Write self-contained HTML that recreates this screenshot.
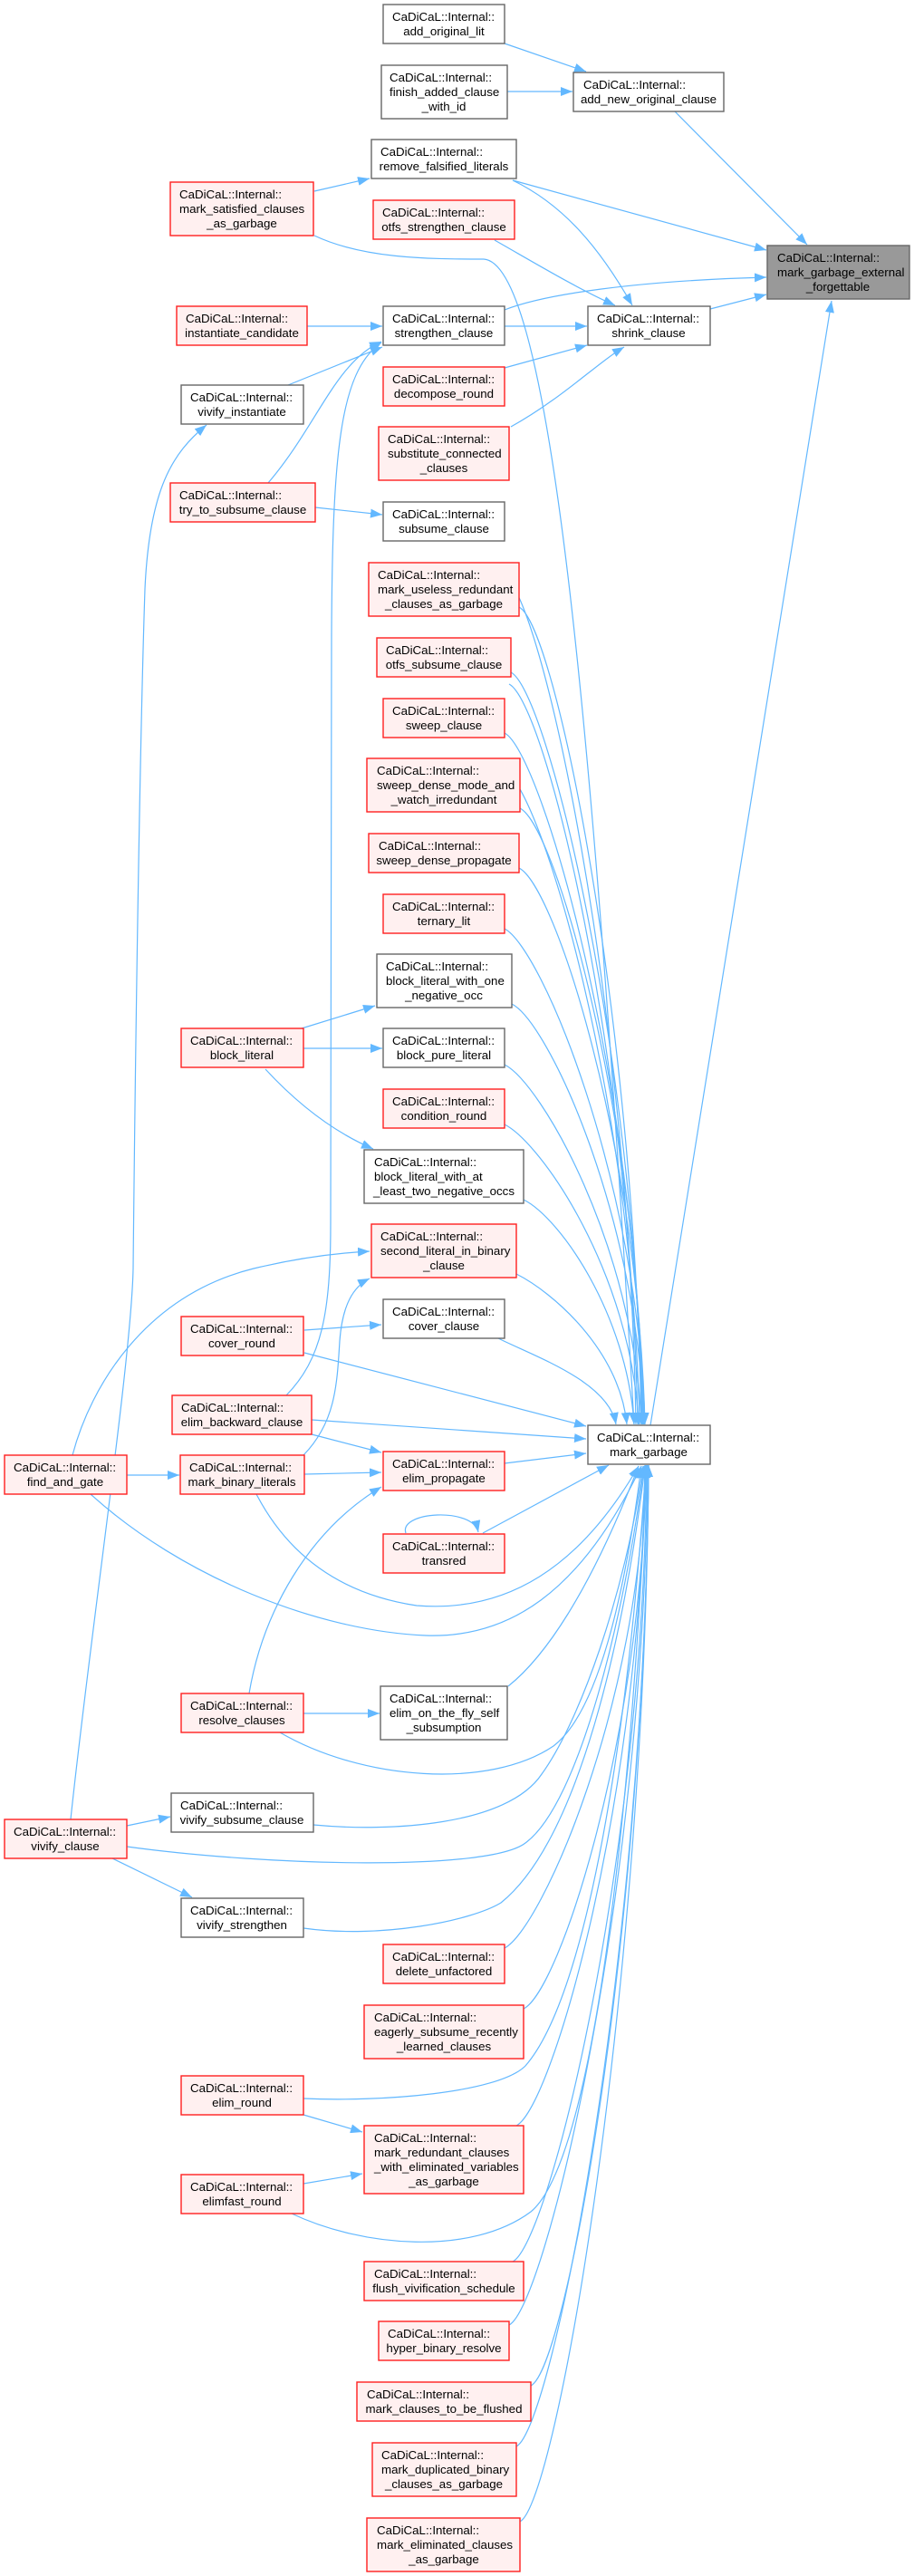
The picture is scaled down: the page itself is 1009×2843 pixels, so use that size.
<!DOCTYPE html>
<html><head><meta charset="utf-8"><style>
html,body{margin:0;padding:0;background:#fff;}
svg{display:block;}
text{font-family:"Liberation Sans",Arial,sans-serif;font-size:13.3px;fill:#000;}
.e{fill:none;stroke:#63b8ff;stroke-width:1.2;marker-end:url(#a);}
.n{fill:none;stroke:#63b8ff;stroke-width:1.2;}
.w{fill:#fff;stroke:#666;stroke-width:1.4;}
.r{fill:#fff0f0;stroke:#ff2020;stroke-width:1.4;}
.g{fill:#999;stroke:#666;stroke-width:1.4;}
</style></head><body>
<svg width="1009" height="2843" viewBox="0 0 1009 2843" xmlns="http://www.w3.org/2000/svg">
<defs><marker id="a" markerUnits="userSpaceOnUse" markerWidth="14" markerHeight="10" refX="13" refY="5" orient="auto"><path d="M0,0 L13,5 L0,10 z" fill="#63b8ff"/></marker></defs>

<!-- edges -->
<path class="e" d="M745,123 L891,270"/>
<path class="e" d="M566,199 L846,276"/>
<path class="e" d="M557,342 C600,325 700,310 846,306"/>
<path class="e" d="M784,341 L846,325"/>
<path class="e" d="M718,1573 L918,332"/>
<path class="e" d="M557,48 L647,79"/>
<path class="e" d="M560,101 L632,101"/>
<path class="e" d="M347,211 L408,197"/>
<path class="e" d="M566,199 C620,225 660,270 698,337"/>
<path class="e" d="M546,265 C590,290 640,320 679,337"/>
<path class="e" d="M557,360 L648,360"/>
<path class="e" d="M557,406 L648,381"/>
<path class="e" d="M564,471 C620,440 660,400 689,383"/>
<path class="e" d="M339,360 L422,360"/>
<path class="e" d="M318,425 L422,383"/>
<path class="e" d="M296,533 C350,470 370,400 421,377"/>
<path class="e" d="M348,560 L422,568"/>
<path class="e" d="M316,1540 C355,1500 365,1450 365,1350 L366,700 C367,500 375,410 421,378"/>
<path class="e" d="M335,1606 C370,1570 372,1530 375,1480 C378,1440 390,1420 408,1411"/>
<path class="e" d="M80,1606 C100,1530 160,1430 280,1400 C330,1388 370,1383 408,1381"/>
<path class="e" d="M333,1135 L414,1110"/>
<path class="e" d="M335,1157 L422,1157"/>
<path class="e" d="M293,1180 C330,1220 370,1250 412,1268"/>
<path class="e" d="M336,1468 L421,1462"/>
<path class="e" d="M344,1583 L421,1603"/>
<path class="e" d="M140,1628 L198,1628"/>
<path class="e" d="M336,1627 L421,1625"/>
<path class="e" d="M448,1692 C440,1668 522,1663 528,1691"/>
<path class="e" d="M275,1869 C290,1780 340,1690 421,1641"/>
<path class="e" d="M335,1891 L419,1891"/>
<path class="e" d="M140,2015 L188,2005"/>
<path class="e" d="M122,2050 L212,2094"/>
<path class="e" d="M78,2008 C100,1800 145,1500 147,1400 C150,1100 155,800 160,650 C165,540 190,500 228,469"/>
<path class="e" d="M335,2334 L400,2353"/>
<path class="e" d="M335,2410 L400,2399"/>

<!-- into mark_garbage -->
<path class="e" d="M336,1493 L647,1574"/>
<path class="e" d="M344,1567 L647,1588"/>
<path class="e" d="M557,1615 L647,1604"/>
<path class="e" d="M533,1692 L672,1617"/>
<path class="e" d="M347,260 C400,285 470,286 534,286 C600,290 650,700 700,1572"/>
<path class="e" d="M557,636 C597,656 694,1100 702,1572"/>
<path class="e" d="M562,755 C602,775 696,1160 704,1572"/>
<path class="e" d="M557,850 C597,870 698,1210 706,1572"/>
<path class="e" d="M573,670 C613,690 700,1120 708,1572"/>
<path class="e" d="M564,742 C604,762 701,1160 709,1572"/>
<path class="e" d="M557,809 C597,829 702,1190 710,1572"/>
<path class="e" d="M574,892 C614,912 703,1230 711,1572"/>
<path class="e" d="M573,958 C613,978 704,1265 712,1572"/>
<path class="e" d="M557,1025 C597,1045 704,1300 712,1572"/>
<path class="e" d="M565,1108 C605,1128 703,1340 711,1572"/>
<path class="e" d="M557,1175 C597,1195 700,1375 708,1572"/>
<path class="e" d="M557,1241 C597,1261 697,1405 705,1572"/>
<path class="e" d="M578,1324 C618,1344 692,1450 700,1572"/>
<path class="e" d="M570,1406 C610,1426 684,1490 692,1572"/>
<path class="e" d="M550,1477 C590,1497 672,1525 680,1572"/>

<path class="e" d="M557,2150 C597,2130 708,1880 712,1617"/>
<path class="e" d="M578,2217 C618,2197 709,1915 713,1617"/>
<path class="e" d="M570,2346 C610,2326 708,1980 712,1617"/>
<path class="e" d="M566,2496 C606,2476 710,2055 714,1617"/>
<path class="e" d="M562,2566 C602,2546 711,2090 715,1617"/>
<path class="e" d="M586,2633 C626,2613 712,2125 716,1617"/>
<path class="e" d="M570,2700 C610,2680 712,2160 716,1617"/>
<path class="e" d="M574,2783 C614,2763 712,2200 716,1617"/>
<path class="e" d="M561,1861 C600,1830 650,1760 705,1618"/>
<path class="e" d="M309,1912 C400,1965 540,1975 611,1927 C660,1890 690,1760 708,1618"/>
<path class="e" d="M346,2014 C430,2022 560,2015 598,1958 C640,1900 690,1760 710,1618"/>
<path class="e" d="M140,2038 C300,2060 540,2065 580,2034 C640,1990 690,1780 711,1618"/>
<path class="e" d="M335,2128 C420,2140 520,2120 553,2100 C640,2030 690,1800 712,1618"/>
<path class="e" d="M335,2316 C420,2320 550,2310 580,2280 C650,2200 695,1900 713,1618"/>
<path class="e" d="M322,2443 C400,2480 520,2490 586,2441 C660,2380 700,1950 714,1618"/>
<path class="e" d="M283,1649 C320,1720 380,1760 460,1772 C560,1780 640,1730 705,1618"/>
<path class="e" d="M100,1649 C200,1740 350,1800 470,1805 C560,1808 640,1760 708,1618"/>

<!-- nodes -->
<g>
<rect class="w" x="423" y="5" width="134" height="43"/><text x="433" y="23">CaDiCaL::Internal::</text><text x="490" y="39" text-anchor="middle">add_original_lit</text>
<rect class="w" x="421" y="72" width="139" height="59"/><text x="430" y="90">CaDiCaL::Internal::</text><text x="430" y="106">finish_added_clause</text><text x="490" y="122" text-anchor="middle">_with_id</text>
<rect class="w" x="633" y="80" width="166" height="43"/><text x="644" y="98">CaDiCaL::Internal::</text><text x="716" y="114" text-anchor="middle">add_new_original_clause</text>
<rect class="w" x="410" y="154" width="160" height="43"/><text x="420" y="172">CaDiCaL::Internal::</text><text x="490" y="188" text-anchor="middle">remove_falsified_literals</text>
<rect class="r" x="188" y="201" width="158" height="59"/><text x="198" y="219">CaDiCaL::Internal::</text><text x="198" y="235">mark_satisfied_clauses</text><text x="267" y="251" text-anchor="middle">_as_garbage</text>
<rect class="r" x="412" y="221" width="156" height="43"/><text x="422" y="239">CaDiCaL::Internal::</text><text x="490" y="255" text-anchor="middle">otfs_strengthen_clause</text>
<rect class="g" x="847" y="271" width="157" height="59"/><text x="858" y="289">CaDiCaL::Internal::</text><text x="858" y="305">mark_garbage_external</text><text x="925" y="321" text-anchor="middle">_forgettable</text>
<rect class="r" x="195" y="338" width="144" height="43"/><text x="205" y="356">CaDiCaL::Internal::</text><text x="267" y="372" text-anchor="middle">instantiate_candidate</text>
<rect class="w" x="423" y="338" width="134" height="43"/><text x="433" y="356">CaDiCaL::Internal::</text><text x="490" y="372" text-anchor="middle">strengthen_clause</text>
<rect class="w" x="649" y="338" width="135" height="43"/><text x="659" y="356">CaDiCaL::Internal::</text><text x="716" y="372" text-anchor="middle">shrink_clause</text>
<rect class="r" x="423" y="405" width="134" height="43"/><text x="433" y="423">CaDiCaL::Internal::</text><text x="490" y="439" text-anchor="middle">decompose_round</text>
<rect class="w" x="200" y="425" width="135" height="43"/><text x="210" y="443">CaDiCaL::Internal::</text><text x="267" y="459" text-anchor="middle">vivify_instantiate</text>
<rect class="r" x="418" y="471" width="144" height="59"/><text x="428" y="489">CaDiCaL::Internal::</text><text x="428" y="505">substitute_connected</text><text x="490" y="521" text-anchor="middle">_clauses</text>
<rect class="r" x="188" y="533" width="160" height="43"/><text x="198" y="551">CaDiCaL::Internal::</text><text x="268" y="567" text-anchor="middle">try_to_subsume_clause</text>
<rect class="w" x="423" y="554" width="134" height="43"/><text x="433" y="572">CaDiCaL::Internal::</text><text x="490" y="588" text-anchor="middle">subsume_clause</text>
<rect class="r" x="407" y="621" width="166" height="59"/><text x="417" y="639">CaDiCaL::Internal::</text><text x="417" y="655">mark_useless_redundant</text><text x="490" y="671" text-anchor="middle">_clauses_as_garbage</text>
<rect class="r" x="416" y="704" width="148" height="43"/><text x="426" y="722">CaDiCaL::Internal::</text><text x="490" y="738" text-anchor="middle">otfs_subsume_clause</text>
<rect class="r" x="423" y="771" width="134" height="43"/><text x="433" y="789">CaDiCaL::Internal::</text><text x="490" y="805" text-anchor="middle">sweep_clause</text>
<rect class="r" x="405" y="837" width="169" height="59"/><text x="416" y="855">CaDiCaL::Internal::</text><text x="416" y="871">sweep_dense_mode_and</text><text x="490" y="887" text-anchor="middle">_watch_irredundant</text>
<rect class="r" x="407" y="920" width="166" height="43"/><text x="418" y="938">CaDiCaL::Internal::</text><text x="490" y="954" text-anchor="middle">sweep_dense_propagate</text>
<rect class="r" x="423" y="987" width="134" height="43"/><text x="433" y="1005">CaDiCaL::Internal::</text><text x="490" y="1021" text-anchor="middle">ternary_lit</text>
<rect class="w" x="416" y="1053" width="149" height="59"/><text x="426" y="1071">CaDiCaL::Internal::</text><text x="426" y="1087">block_literal_with_one</text><text x="490" y="1103" text-anchor="middle">_negative_occ</text>
<rect class="r" x="200" y="1135" width="135" height="43"/><text x="210" y="1153">CaDiCaL::Internal::</text><text x="267" y="1169" text-anchor="middle">block_literal</text>
<rect class="w" x="423" y="1135" width="134" height="43"/><text x="433" y="1153">CaDiCaL::Internal::</text><text x="490" y="1169" text-anchor="middle">block_pure_literal</text>
<rect class="r" x="423" y="1202" width="134" height="43"/><text x="433" y="1220">CaDiCaL::Internal::</text><text x="490" y="1236" text-anchor="middle">condition_round</text>
<rect class="w" x="402" y="1269" width="176" height="59"/><text x="413" y="1287">CaDiCaL::Internal::</text><text x="413" y="1303">block_literal_with_at</text><text x="490" y="1319" text-anchor="middle">_least_two_negative_occs</text>
<rect class="r" x="410" y="1351" width="160" height="59"/><text x="420" y="1369">CaDiCaL::Internal::</text><text x="420" y="1385">second_literal_in_binary</text><text x="490" y="1401" text-anchor="middle">_clause</text>
<rect class="w" x="423" y="1434" width="134" height="43"/><text x="433" y="1452">CaDiCaL::Internal::</text><text x="490" y="1468" text-anchor="middle">cover_clause</text>
<rect class="r" x="200" y="1453" width="135" height="43"/><text x="210" y="1471">CaDiCaL::Internal::</text><text x="267" y="1487" text-anchor="middle">cover_round</text>
<rect class="r" x="190" y="1540" width="154" height="43"/><text x="200" y="1558">CaDiCaL::Internal::</text><text x="267" y="1574" text-anchor="middle">elim_backward_clause</text>
<rect class="w" x="649" y="1573" width="135" height="43"/><text x="659" y="1591">CaDiCaL::Internal::</text><text x="716" y="1607" text-anchor="middle">mark_garbage</text>
<rect class="r" x="5" y="1606" width="135" height="43"/><text x="15" y="1624">CaDiCaL::Internal::</text><text x="72" y="1640" text-anchor="middle">find_and_gate</text>
<rect class="r" x="199" y="1606" width="137" height="43"/><text x="209" y="1624">CaDiCaL::Internal::</text><text x="267" y="1640" text-anchor="middle">mark_binary_literals</text>
<rect class="r" x="423" y="1602" width="134" height="43"/><text x="433" y="1620">CaDiCaL::Internal::</text><text x="490" y="1636" text-anchor="middle">elim_propagate</text>
<rect class="r" x="423" y="1693" width="134" height="43"/><text x="433" y="1711">CaDiCaL::Internal::</text><text x="490" y="1727" text-anchor="middle">transred</text>
<rect class="r" x="200" y="1869" width="135" height="43"/><text x="210" y="1887">CaDiCaL::Internal::</text><text x="267" y="1903" text-anchor="middle">resolve_clauses</text>
<rect class="w" x="420" y="1861" width="140" height="59"/><text x="430" y="1879">CaDiCaL::Internal::</text><text x="430" y="1895">elim_on_the_fly_self</text><text x="490" y="1911" text-anchor="middle">_subsumption</text>
<rect class="w" x="189" y="1979" width="157" height="43"/><text x="199" y="1997">CaDiCaL::Internal::</text><text x="267" y="2013" text-anchor="middle">vivify_subsume_clause</text>
<rect class="r" x="5" y="2008" width="135" height="43"/><text x="15" y="2026">CaDiCaL::Internal::</text><text x="72" y="2042" text-anchor="middle">vivify_clause</text>
<rect class="w" x="200" y="2095" width="135" height="43"/><text x="210" y="2113">CaDiCaL::Internal::</text><text x="267" y="2129" text-anchor="middle">vivify_strengthen</text>
<rect class="r" x="423" y="2146" width="134" height="43"/><text x="433" y="2164">CaDiCaL::Internal::</text><text x="490" y="2180" text-anchor="middle">delete_unfactored</text>
<rect class="r" x="402" y="2213" width="176" height="59"/><text x="413" y="2231">CaDiCaL::Internal::</text><text x="413" y="2247">eagerly_subsume_recently</text><text x="490" y="2263" text-anchor="middle">_learned_clauses</text>
<rect class="r" x="200" y="2291" width="135" height="43"/><text x="210" y="2309">CaDiCaL::Internal::</text><text x="267" y="2325" text-anchor="middle">elim_round</text>
<rect class="r" x="402" y="2346" width="176" height="75"/><text x="413" y="2364">CaDiCaL::Internal::</text><text x="413" y="2380">mark_redundant_clauses</text><text x="413" y="2396">_with_eliminated_variables</text><text x="490" y="2412" text-anchor="middle">_as_garbage</text>
<rect class="r" x="200" y="2400" width="135" height="43"/><text x="210" y="2418">CaDiCaL::Internal::</text><text x="267" y="2434" text-anchor="middle">elimfast_round</text>
<rect class="r" x="402" y="2496" width="176" height="43"/><text x="413" y="2514">CaDiCaL::Internal::</text><text x="490" y="2530" text-anchor="middle">flush_vivification_schedule</text>
<rect class="r" x="418" y="2562" width="144" height="43"/><text x="428" y="2580">CaDiCaL::Internal::</text><text x="490" y="2596" text-anchor="middle">hyper_binary_resolve</text>
<rect class="r" x="394" y="2629" width="192" height="43"/><text x="405" y="2647">CaDiCaL::Internal::</text><text x="490" y="2663" text-anchor="middle">mark_clauses_to_be_flushed</text>
<rect class="r" x="411" y="2696" width="159" height="59"/><text x="421" y="2714">CaDiCaL::Internal::</text><text x="421" y="2730">mark_duplicated_binary</text><text x="490" y="2746" text-anchor="middle">_clauses_as_garbage</text>
<rect class="r" x="405" y="2779" width="169" height="59"/><text x="416" y="2797">CaDiCaL::Internal::</text><text x="416" y="2813">mark_eliminated_clauses</text><text x="490" y="2829" text-anchor="middle">_as_garbage</text>
</g>
</svg>
</body></html>
